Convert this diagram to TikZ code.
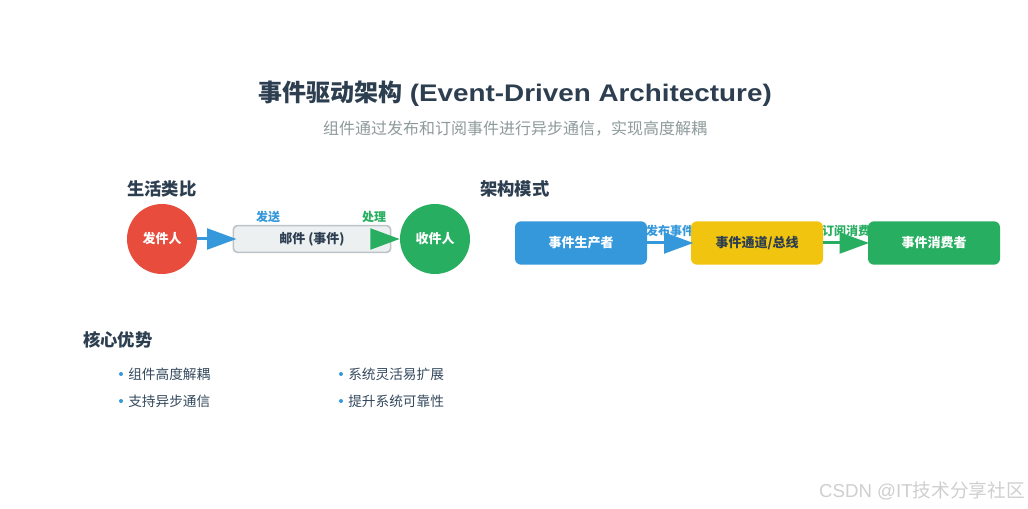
\documentclass[tikz,border=0pt]{standalone}
\usepackage{fontspec}
\setmainfont{Noto Sans CJK SC}
\newfontfamily\latfont{Liberation Sans}
\newfontfamily\widefont[FakeStretch=1.16]{Liberation Sans}
\usetikzlibrary{arrows.meta}
\definecolor{dark}{HTML}{2C3E50}
\definecolor{textc}{HTML}{34495E}
\definecolor{subc}{HTML}{8E9A9B}
\definecolor{cblue}{HTML}{3498DB}
\definecolor{cred}{HTML}{E74C3C}
\definecolor{cgreen}{HTML}{27AE60}
\definecolor{cyellow}{HTML}{F1C40F}
\definecolor{mailfill}{HTML}{ECF0F1}
\definecolor{mailborder}{HTML}{BDC3C7}
\definecolor{wm}{HTML}{CFCFCF}
\tikzset{
  heading/.style={anchor=west,inner sep=0pt,text=dark,font=\fontsize{13}{15}\selectfont\bfseries},
  person/.style={circle,minimum size=52.5pt,inner sep=0pt,text=white,font=\fontsize{9.75}{11}\selectfont\bfseries},
  flowbox/.style={rounded corners=4.5pt,minimum width=99pt,minimum height=32.5pt,inner sep=0pt,font=\fontsize{9.75}{11}\selectfont\bfseries},
  lbl/.style={inner sep=0pt,font=\fontsize{9}{10}\selectfont\bfseries},
  bigarrow/.style={line width=2.25pt,-{Triangle[length=22pt,width=15.5pt]}},
  bullet/.style={anchor=west,inner sep=0pt,text=textc,font=\fontsize{10.25}{12}\selectfont},
  dot/.style={circle,fill=cblue,inner sep=0pt,minimum size=3pt},
}
\begin{document}
\begin{tikzpicture}[x=0.75pt,y=-0.75pt]
\useasboundingbox (0,0) rectangle (1028,509);
\fill[white] (0,0) rectangle (1028,509);

% title
\node[inner sep=0pt,text=dark,font=\fontsize{18}{21}\selectfont\bfseries] (title) at (515,94) {事件驱动架构{\widefont\bfseries{} (Event-Driven Architecture)}};
\node[inner sep=0pt,text=subc,font=\fontsize{12}{14}\selectfont] (subtitle) at (515,129) {组件通过发布和订阅事件进行异步通信，实现高度解耦};

% headings
\node[heading] (h1) at (127,189) {生活类比};
\node[heading] (h2) at (480,189) {架构模式};
\node[heading] (h3) at (83,340) {核心优势};

% life analogy
\node[person,fill=cred] (sender) at (162,239) {发件人};
\node[rounded corners=3pt,draw=mailborder,line width=1.2pt,fill=mailfill,minimum width=118pt,minimum height=20pt,inner sep=0pt,text=dark,font=\fontsize{9.75}{11}\selectfont\bfseries] (mail) at (312,239) {邮件 (事件)};
\node[person,fill=cgreen] (receiver) at (435,239) {收件人};
\node[lbl,text=cblue] (send) at (268,217) {发送};
\node[lbl,text=cgreen] (proc) at (374,217) {处理};
\draw[bigarrow,cblue] (sender.east) -- ([xshift=3pt]mail.west);
\draw[bigarrow,cgreen] (mail.east) -- (receiver.west);

% architecture pattern
\node[lbl,text=cblue] (pub) at (670,231) {发布事件};
\node[lbl,text=cgreen] (sub) at (846,231) {订阅消费};
\node[flowbox,fill=cblue,text=white] (prod) at (581,243) {事件生产者};
\node[flowbox,fill=cyellow,text=dark] (bus) at (757,243) {事件通道/总线};
\node[flowbox,fill=cgreen,text=white] (cons) at (934,243) {事件消费者};
\draw[bigarrow,cblue] (prod.east) -- ([xshift=2pt]bus.west);
\draw[bigarrow,cgreen] (bus.east) -- ([xshift=1pt]cons.west);

% advantages
\node[dot] (d1) at (121,374) {};
\node[bullet] (b1) at (128,374) {组件高度解耦};
\node[dot] (d2) at (121,401) {};
\node[bullet] (b2) at (128,401) {支持异步通信};
\node[dot] (d3) at (341,374) {};
\node[bullet] (b3) at (348,374) {系统灵活易扩展};
\node[dot] (d4) at (341,401) {};
\node[bullet] (b4) at (348,401) {提升系统可靠性};

% watermark
\node[anchor=east,inner sep=0pt,text=wm,font=\fontsize{14}{16}\selectfont] (wmk) at (1025,491) {{\latfont CSDN @IT}技术分享社区};
\end{tikzpicture}
\end{document}
